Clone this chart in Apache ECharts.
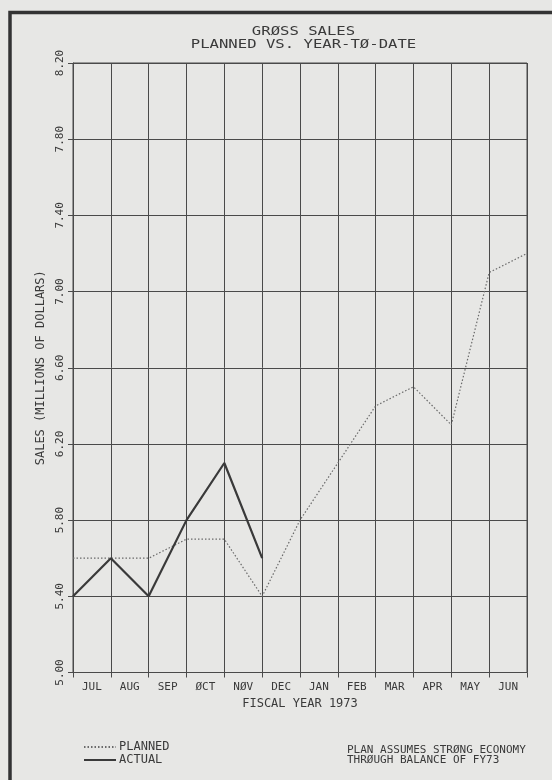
<!DOCTYPE html>
<html>
<head>
<meta charset="utf-8">
<script src="https://cdn.jsdelivr.net/npm/echarts@6/dist/echarts.min.js"></script>
<style>
html,body{margin:0;padding:0;background:#e7e7e5;}
#c{width:552px;height:780px;}
</style>
</head>
<body>
<div id="c"></div>
<script>
const months = ['JUL','AUG','SEP','ØCT','NØV','DEC','JAN','FEB','MAR','APR','MAY','JUN'];
const planned = [5.60, 5.60, 5.60, 5.70, 5.70, 5.40, 5.80, 6.10, 6.40, 6.50, 6.30, 7.10, 7.20];
const actual = [5.40, 5.60, 5.40, 5.80, 6.10, 5.60];
const yTicks = [5.00, 5.40, 5.80, 6.20, 6.60, 7.00, 7.40, 7.80, 8.20];
const titleLines = ['GRØSS SALES', 'PLANNED VS. YEAR-TØ-DATE'];
const noteLines = ['PLAN ASSUMES STRØNG ECONOMY', 'THRØUGH BALANCE OF FY73'];

const FONT = '"DejaVu Sans Mono", "Liberation Mono", monospace';
const INK = '#3a3a3a';
const chart = echarts.init(document.getElementById('c'), null, {renderer: 'canvas'});

const toPairs = arr => arr.map((v, i) => [i, v]);

chart.setOption({
  backgroundColor: '#e7e7e5',
  animation: false,
  grid: {left: 73, right: 25, top: 63, bottom: 107.5, show: true, borderColor: '#4a4a4a', borderWidth: 1},
  xAxis: [{
    type: 'category', data: months, boundaryGap: true,
    axisLine: {lineStyle: {color: '#4a4a4a', width: 1}},
    axisTick: {show: true, length: 5, lineStyle: {color: '#4a4a4a'}},
    splitLine: {show: true, lineStyle: {color: '#4a4a4a', width: 1}},
    axisLabel: {color: INK, fontFamily: FONT, fontSize: 11, margin: 9},
    name: 'FISCAL YEAR 1973', nameLocation: 'middle', nameGap: 25,
    nameTextStyle: {color: INK, fontFamily: FONT, fontSize: 12}
  }, {
    type: 'value', min: 0, max: 12, show: false
  }],
  yAxis: {
    type: 'value', min: yTicks[0], max: yTicks[yTicks.length - 1], interval: 0.4,
    axisLine: {show: true, lineStyle: {color: '#4a4a4a', width: 1}},
    axisTick: {show: true, length: 5, lineStyle: {color: '#4a4a4a'}},
    splitLine: {show: true, lineStyle: {color: '#4a4a4a', width: 1}},
    axisLabel: {
      color: INK, fontFamily: FONT, fontSize: 11, rotate: 90, margin: 7,
      align: 'center', verticalAlign: 'bottom',
      formatter: v => v.toFixed(2)
    },
    name: 'SALES (MILLIONS OF DOLLARS)', nameLocation: 'middle', nameRotate: 90, nameGap: 26,
    nameTextStyle: {color: INK, fontFamily: FONT, fontSize: 12}
  },
  legend: {
    orient: 'vertical', left: 78, top: 736, itemGap: 1, itemWidth: 32, itemHeight: 12,
    itemStyle: {opacity: 0},
    textStyle: {color: INK, fontFamily: FONT, fontSize: 12, padding: [0, 0, 0, -2]},
    data: ['PLANNED', 'ACTUAL']
  },
  series: [{
    name: 'PLANNED', type: 'line', xAxisIndex: 1, data: toPairs(planned),
    symbol: 'none', lineStyle: {color: '#6a6a6a', width: 1.2, type: [1.5, 2]},
    itemStyle: {color: '#6a6a6a'}
  }, {
    name: 'ACTUAL', type: 'line', xAxisIndex: 1, data: toPairs(actual),
    symbol: 'none', lineStyle: {color: '#3a3a3a', width: 2.2},
    itemStyle: {color: '#3a3a3a'}
  }],
  graphic: [
    {type: 'rect', shape: {x: 10, y: 12.5, width: 700, height: 900}, silent: true,
     style: {fill: 'none', stroke: '#333', lineWidth: 3.5}},
    {type: 'text', x: 303.5, y: 31.5, scaleX: 1.2, style: {text: titleLines[0], fill: INK, font: '13px ' + FONT, align: 'center', verticalAlign: 'middle'}},
    {type: 'text', x: 303.5, y: 44.5, scaleX: 1.2, style: {text: titleLines[1], fill: INK, font: '13px ' + FONT, align: 'center', verticalAlign: 'middle'}},
    {type: 'text', x: 347, y: 750, style: {text: noteLines[0], fill: INK, font: '11px ' + FONT, verticalAlign: 'middle'}},
    {type: 'text', x: 347, y: 760, style: {text: noteLines[1], fill: INK, font: '11px ' + FONT, verticalAlign: 'middle'}}
  ]
});
</script>
</body>
</html>
